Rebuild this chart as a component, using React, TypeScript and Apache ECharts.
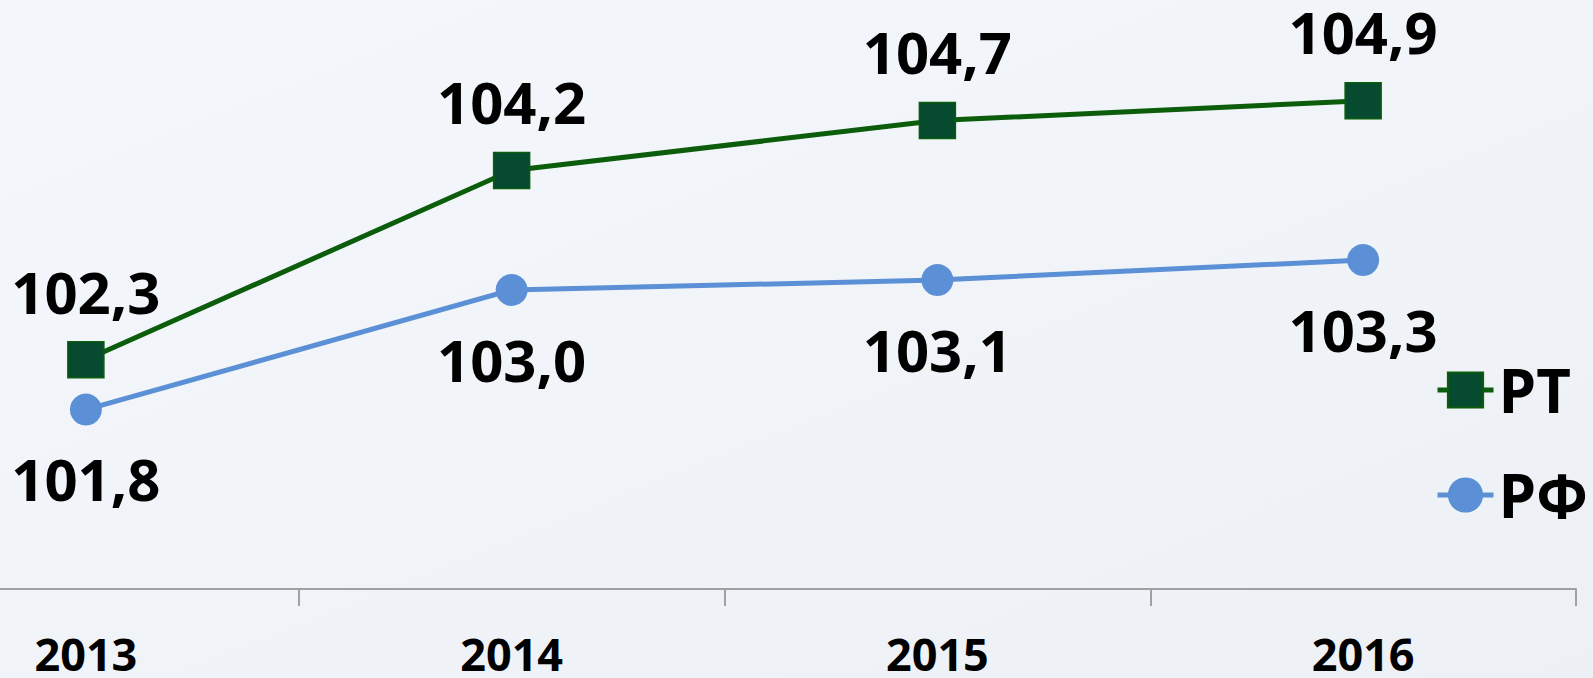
import React, { useEffect, useRef } from "react";
import * as echarts from "echarts";

const years = ["2013", "2014", "2015", "2016"];
const rtValues = [102.3, 104.2, 104.7, 104.9];
const rfValues = [101.8, 103.0, 103.1, 103.3];
const seriesNames = ["РТ", "РФ"];

const fmt = (v: number) => v.toFixed(1).replace(".", ",");

// the visible picture is a crop of a wider chart: shift the canvas
const SHIFT_X = 127;
const SHIFT_Y = 9;

export default function App() {
  const ref = useRef<HTMLDivElement>(null);
  useEffect(() => {
    if (!ref.current) return;
    const chart = echarts.init(ref.current, null, { renderer: "svg" });
    const labelStyle = {
      show: true,
      fontFamily: "Open Sans",
      fontWeight: "bold" as const,
      fontSize: 58,
      color: "#000",
      formatter: (p: any) => fmt(p.value),
    };
    chart.setOption({
      animation: false,
      backgroundColor: new echarts.graphic.LinearGradient(0, 0, 1, 1, [
        { offset: 0, color: "#f4f7fb" },
        { offset: 1, color: "#edf0f4" },
      ]),
      grid: { left: 0, right: 17, top: 0, bottom: 89, containLabel: false },
      legend: {
        orient: "vertical",
        left: 1435 + SHIFT_X,
        top: 360 + SHIFT_Y,
        padding: 0,
        itemWidth: 56,
        itemHeight: 44,
        itemGap: 45,
        lineStyle: { width: 5 },
        textStyle: {
          fontFamily: "Open Sans",
          fontWeight: "bold",
          fontSize: 60,
          color: "#000",
        },
        data: seriesNames,
      },
      xAxis: {
        type: "category",
        data: years,
        boundaryGap: true,
        axisLine: { lineStyle: { color: "#a0a0a0", width: 2 } },
        axisTick: { show: true, length: 17, lineStyle: { color: "#a0a0a0", width: 2 } },
        axisLabel: {
          fontFamily: "Open Sans",
          fontWeight: "bold",
          fontSize: 45,
          lineHeight: 36,
          color: "#000",
          margin: 46,
        },
      },
      yAxis: {
        type: "value",
        min: 100,
        max: 106,
        show: false,
        splitLine: { show: false },
      },
      series: [
        {
          name: seriesNames[0],
          type: "line",
          data: rtValues,
          symbol: "rect",
          symbolSize: 36,
          lineStyle: { color: "#0b5c0b", width: 5 },
          itemStyle: { color: "#064a30", borderColor: "#0b5c0b", borderWidth: 1.5 },
          label: { ...labelStyle, position: "top", distance: 21 },
        },
        {
          name: seriesNames[1],
          type: "line",
          data: rfValues,
          symbol: "circle",
          symbolSize: 32,
          lineStyle: { color: "#5b8fd6", width: 5 },
          itemStyle: { color: "#5b8fd6" },
          label: { ...labelStyle, position: "bottom", distance: 24 },
        },
      ],
    });
    return () => chart.dispose();
  }, []);
  return (
    <div
      ref={ref}
      style={{
        position: "absolute",
        left: -SHIFT_X,
        top: -SHIFT_Y,
        width: 1593 + SHIFT_X,
        height: 678 + SHIFT_Y,
      }}
    />
  );
}
